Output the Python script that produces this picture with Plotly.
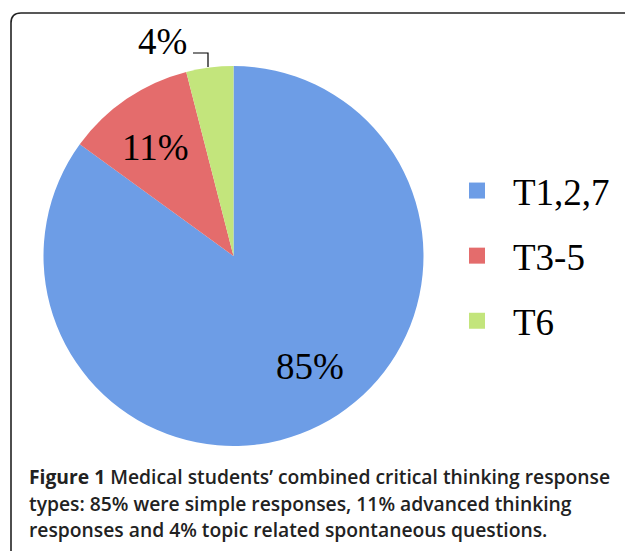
import plotly.graph_objects as go

categories = ["T1,2,7", "T3-5", "T6"]
values = [85, 11, 4]
colors = ["#6d9de6", "#e46c6c", "#c3e57c"]
caption_lines = [
    "<b>Figure 1</b> Medical students’ combined critical thinking response",
    "types: 85% were simple responses, 11% advanced thinking",
    "responses and 4% topic related spontaneous questions.",
]

W, H = 625, 551
cx, cy, r = 233.5, 256, 190


def px(x):
    return x / W


def py(y):
    return (H - y) / H


fig = go.Figure()
fig.add_trace(go.Pie(
    labels=categories, values=values, sort=False, direction="clockwise", rotation=0,
    marker=dict(colors=colors, line=dict(width=0)),
    textinfo="none",
    domain=dict(x=[px(cx - r), px(cx + r)], y=[py(cy + r), py(cy - r)]),
    showlegend=False, hoverinfo="label+percent",
))

for cat, col in zip(categories, colors):
    fig.add_trace(go.Scatter(
        x=[None], y=[None], mode="markers", name=cat, legendgroup=cat,
        marker=dict(symbol="square", size=18, color=col),
    ))

# slice value labels
label_pos = [(310, 366), (155, 148), (163, 42)]
for v, (lx, ly) in zip(values, label_pos):
    fig.add_annotation(
        text=f"{v}%", xref="paper", yref="paper", x=px(lx), y=py(ly),
        xanchor="center", yanchor="middle", showarrow=False,
        font=dict(family="Liberation Serif", size=37, color="#000000"),
    )
# leader line for small slice
fig.add_shape(type="path", xref="paper", yref="paper",
              path=f"M {px(193)},{py(53)} L {px(208)},{py(53)} L {px(208)},{py(67)}",
              line=dict(color="#000000", width=1.2))

for i, line in enumerate(caption_lines):
    fig.add_annotation(
        text=line, xref="paper", yref="paper", x=px(27), y=py(487 + 5 + i * 26.5),
        xanchor="left", yanchor="bottom", showarrow=False, align="left",
        font=dict(family="Open Sans", size=19.3, color="#222222", weight=600),
    )

# rounded frame
x0, y0, rad = 11, 13, 10
path = (f"M {px(x0)},-0.1 L {px(x0)},{py(y0 + rad)} "
        f"Q {px(x0)},{py(y0)} {px(x0 + rad)},{py(y0)} L 1.1,{py(y0)}")
fig.add_shape(type="path", path=path, xref="paper", yref="paper",
              line=dict(color="#222222", width=1.6))

fig.update_layout(
    width=W, height=H, margin=dict(l=0, r=0, t=0, b=0),
    paper_bgcolor="white", plot_bgcolor="white",
    xaxis=dict(visible=False), yaxis=dict(visible=False),
    legend=dict(x=px(441), y=py(256), xanchor="left", yanchor="middle",
                font=dict(family="Liberation Serif", size=37, color="#000000"),
                itemwidth=62, tracegroupgap=14, bgcolor="rgba(0,0,0,0)"),
)
fig.write_html("out.html", config={"displayModeBar": False},
               post_script="document.body.style.margin='0';document.body.style.overflow='hidden';")
